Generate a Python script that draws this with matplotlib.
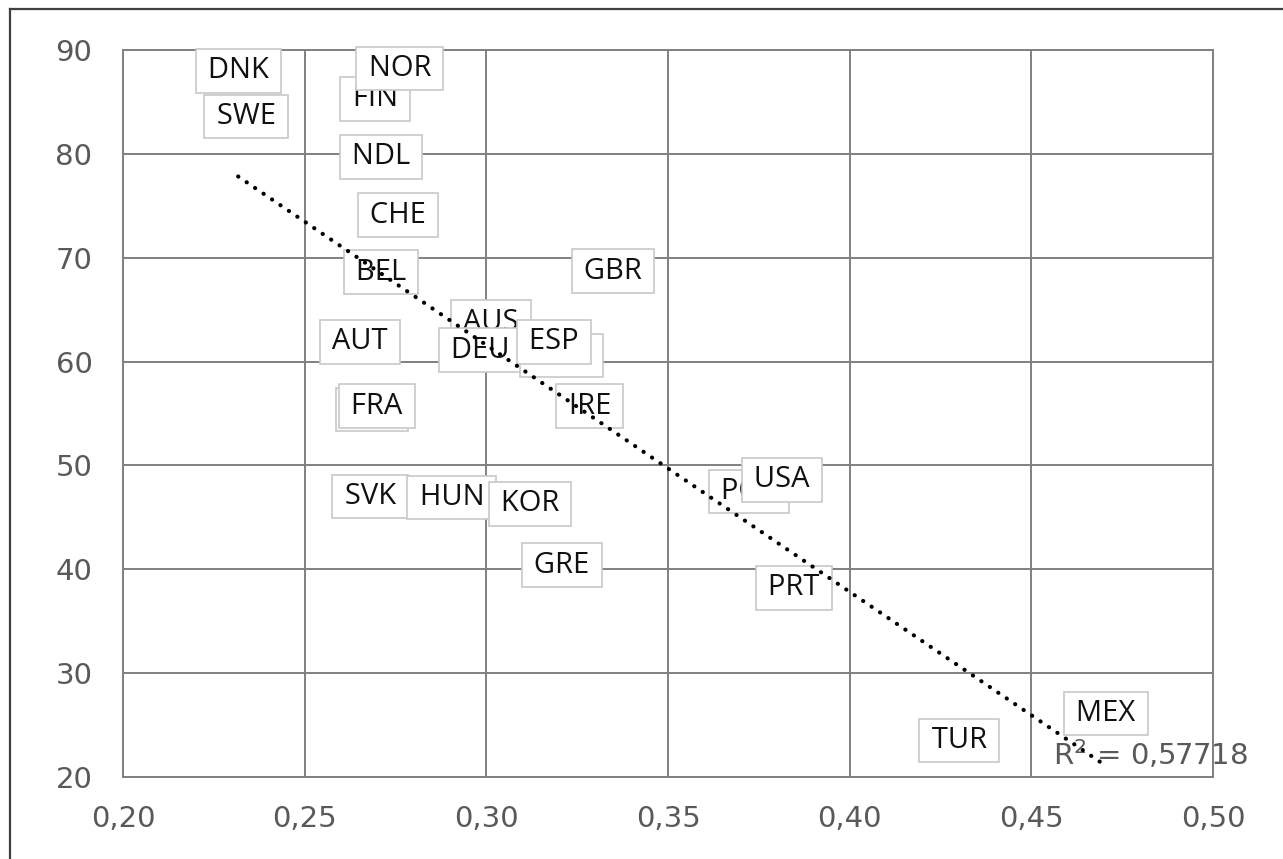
import numpy as np
import matplotlib
matplotlib.use("Agg")
import matplotlib.pyplot as plt
from matplotlib.ticker import FuncFormatter, MultipleLocator
from matplotlib.lines import Line2D

# country codes, x value (index) and y value (score)
# order = drawing order (later labels sit on top)
countries = ["DNK", "SWE", "FIN", "NOR", "NDL", "CHE", "BEL", "GBR", "AUS",
             "AUT", "DEU", "CAN", "ESP", "JPN", "FRA", "IRE", "SVK", "HUN",
             "KOR", "GRE", "POL", "USA", "PRT", "TUR", "MEX"]
xvals = [0.2317, 0.2339, 0.2694, 0.2762, 0.2710, 0.2757, 0.2710, 0.3349, 0.3013,
         0.2652, 0.2983, 0.3208, 0.3186, 0.2685, 0.2699, 0.3285, 0.2680, 0.2905,
         0.3120, 0.3208, 0.3723, 0.3814, 0.3847, 0.4301, 0.4705]
yvals = [88.0, 83.6, 85.3, 88.2, 79.7, 74.1, 68.6, 68.7, 63.8,
         61.9, 61.1, 60.6, 61.9, 55.4, 55.7, 55.7, 47.0, 46.9,
         46.3, 40.4, 47.5, 48.6, 38.2, 23.5, 26.1]
r2_text = "R$^2$ = 0,57718"

W, H = 1283, 859
fig = plt.figure(figsize=(W / 100, H / 100), dpi=100)
ax = fig.add_axes([123 / W, 1 - 777 / H, 1090 / W, 727 / H])

gridc = "#808080"
textc = "#595959"

ax.set_xlim(0.20, 0.50)
ax.set_ylim(20, 90)
ax.xaxis.set_major_locator(MultipleLocator(0.05))
ax.yaxis.set_major_locator(MultipleLocator(10))
ax.xaxis.set_major_formatter(FuncFormatter(lambda v, p: f"{v:.2f}".replace(".", ",")))
ax.yaxis.set_major_formatter(FuncFormatter(lambda v, p: f"{v:.0f}"))
ax.grid(True, color=gridc, lw=1.4)
ax.set_axisbelow(True)
for s in ax.spines.values():
    s.set_color(gridc)
    s.set_linewidth(1.4)
ax.tick_params(axis="both", length=0, labelsize=21, labelcolor=textc)
ax.tick_params(axis="y", pad=22)
ax.tick_params(axis="x", pad=20)

# labels in white boxes, centred on each point
for i, (c, x, y) in enumerate(zip(countries, xvals, yvals)):
    ax.text(x, y, "\u2009" + c + "\u2009", family=["Open Sans", "DejaVu Sans"],
            fontsize=21, color="#111111", ha="center", va="center", zorder=3 + i * 0.01,
            bbox=dict(boxstyle="square,pad=0.25", fc="white", ec="#c8c8c8", lw=1.2))

# linear trend line over the data range
xs = np.array(xvals)
ys = np.array(yvals)
k, b = np.polyfit(xs, ys, 1)
xt = np.array([xs.min(), xs.max()])
ax.plot(xt, k * xt + b, color="black", lw=3.0, linestyle=(0, (0.05, 2.4)),
        dash_capstyle="round", zorder=5)

ax.text(0.456, 22.2, r2_text, fontsize=21, color=textc, ha="left", va="center",
        zorder=4, clip_on=False)

# outer frame, cut off at the right and bottom
fig.add_artist(Line2D([10 / W, 1.0], [1 - 9 / H, 1 - 9 / H], color="#404040", lw=1.6,
                      transform=fig.transFigure))
fig.add_artist(Line2D([10 / W, 10 / W], [0.0, 1 - 9 / H], color="#404040", lw=1.6,
                      transform=fig.transFigure))

fig.savefig("out.png", dpi=100)
